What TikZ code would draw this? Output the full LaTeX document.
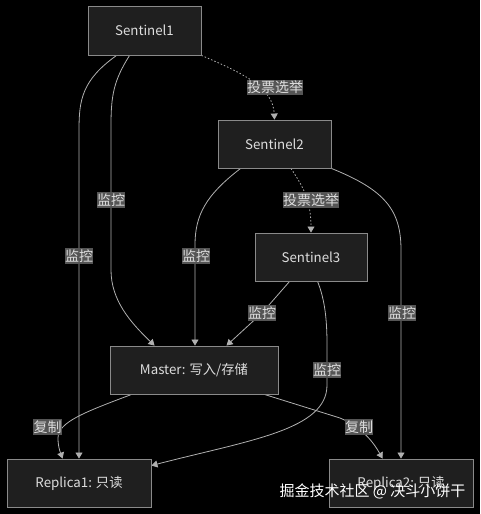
\documentclass[tikz,border=0pt]{standalone}
\usepackage{fontspec}
\setmainfont{Noto Sans CJK SC}
\usetikzlibrary{arrows.meta,calc}
\pgfdeclarelayer{bg}
\pgfdeclarelayer{edges}
\pgfsetlayers{bg,edges,main}
\definecolor{nodefill}{HTML}{1F1F1F}
\definecolor{nodeline}{HTML}{8A8A8A}
\definecolor{txt}{HTML}{DDDDDD}
\definecolor{edgecol}{HTML}{B0B0B0}
\definecolor{labfill}{HTML}{555555}
\tikzset{
  box/.style={draw=nodeline, fill=nodefill, line width=0.9pt, text=txt,
    font=\fontsize{13.3}{15}\selectfont, inner sep=0pt},
  lab/.style={fill=labfill, text=txt, font=\fontsize{14}{16}\selectfont,
    inner xsep=0.3pt, inner ysep=1.5pt},
  edge/.style={draw=edgecol, line width=0.8pt,
    -{Triangle[width=7pt,length=6pt]}},
  vote/.style={edge, dash pattern=on 1.5pt off 2pt},
}
\begin{document}
\begin{tikzpicture}[x=1pt,y=-1pt]
\begin{pgfonlayer}{bg}
\fill[black] (0,0) rectangle (480,514);
\end{pgfonlayer}
\useasboundingbox (0,0) rectangle (480,514);

\node[box, minimum width=113pt, minimum height=49pt] (s1) at (144.5,30.5) {Sentinel1};
\node[box, minimum width=113pt, minimum height=48pt] (s2) at (274.5,144) {Sentinel2};
\node[box, minimum width=112pt, minimum height=48pt] (s3) at (311,257) {Sentinel3};
\node[box, minimum width=168pt, minimum height=48pt] (m) at (194,370) {Master: 写入/存储};
\node[box, minimum width=144pt, minimum height=48pt] (r1) at (79,483) {Replica1: 只读};
\node[box, minimum width=144pt, minimum height=48pt] (r2) at (401,483) {Replica2: 只读};

\node[lab] (l1) at (275,87.5) {投票选举};
\node[lab] (l2) at (311,200) {投票选举};
\node[lab] (l3) at (79,256) {监控};
\node[lab] (l4) at (111,200) {监控};
\node[lab] (l5) at (196,256) {监控};
\node[lab] (l6) at (262,313) {监控};
\node[lab] (l7) at (327,370) {监控};
\node[lab] (l8) at (402,313) {监控};
\node[lab] (l9) at (47.5,427) {复制};
\node[lab] (l10) at (359,427) {复制};

\begin{pgfonlayer}{edges}
% Sentinel1 -> Replica1
\draw[edge] ([xshift=29pt]s1.south west) .. controls (82,80) and (79,100) .. (79,130) -- (l3.center) -- (r1.north);
% Sentinel1 -> Master
\draw[edge] ([xshift=42pt]s1.south west) .. controls (114,80) and (111,95) .. (111,125) -- (l4.center) -- (111,270) .. controls (111,300) and (130,322) .. ([xshift=45pt]m.north west);
% Sentinel1 -> Sentinel2 (vote)
\draw[vote] (s1.south east) .. controls (245,74) and (273,88) .. (s2.north);
% Sentinel2 -> Sentinel3 (vote)
\draw[vote] ([xshift=16.5pt]s2.south) .. controls (301,184) and (311,198) .. (s3.north);
% Sentinel2 -> Master
\draw[edge] ([xshift=23pt]s2.south west) .. controls (206,195) and (195,215) .. (195,245) -- ([xshift=1pt]m.north);
% Sentinel2 -> Replica2
\draw[edge] (s2.south east) .. controls (385,190) and (401,210) .. (401,250) -- (r2.north);
% Sentinel3 -> Master
\draw[edge] ([xshift=35pt]s3.south west) -- (l6.center) -- ([xshift=117pt]m.north west);
% Sentinel3 -> Replica1
\draw[edge] ([xshift=63pt]s3.south west) .. controls (325,300) and (327,320) .. (327,345) -- (327,385) .. controls (327,430) and (250,440) .. ([yshift=-7pt]r1.north east);
% Master -> Replica1
\draw[edge] ([xshift=22pt]m.south west) .. controls (85,412) and (58,422) .. (58,438) .. controls (58,448) and (61,454) .. ([xshift=56pt]r1.north west);
% Master -> Replica2
\draw[edge] ([xshift=-14pt]m.south east) -- (340,418) .. controls (364,428) and (375,445) .. ([xshift=54pt]r2.north west);
\end{pgfonlayer}

\node[text=white, font=\fontsize{15}{17}\selectfont, inner sep=0pt] (wm) at (372.5,491) {掘金技术社区 @ 决斗小饼干};
\end{tikzpicture}
\end{document}
